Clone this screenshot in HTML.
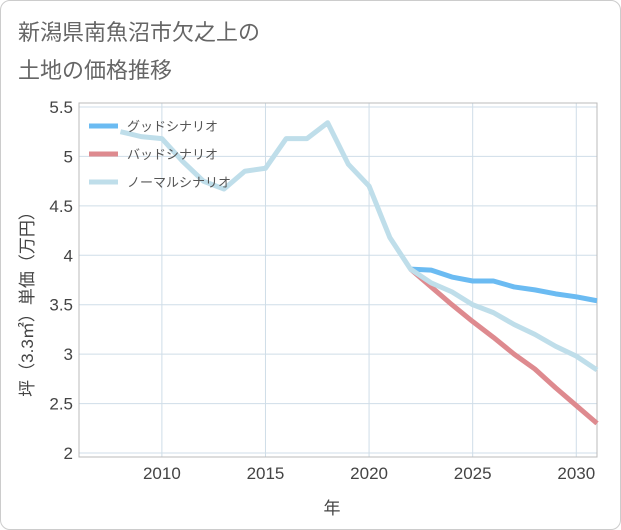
<!DOCTYPE html>
<html><head><meta charset="utf-8"><style>
body{margin:0;background:#fff;font-family:"Liberation Sans","Noto Sans CJK JP",sans-serif}
#card{position:absolute;left:0;top:0;width:619px;height:528px;border:1px solid #ccc;border-radius:10px;background:#fff}
#title{position:absolute;left:18px;top:14px;font-size:22px;line-height:38px;color:#666}
svg{position:absolute;left:0;top:0}
</style></head><body>
<div id="card"></div>
<div id="title">新潟県南魚沼市欠之上の<br>土地の価格推移</div>
<svg id="c" width="621" height="530"></svg>
<script>
const years=[2008,2009,2010,2011,2012,2013,2014,2015,2016,2017,2018,2019,2020,2021,2022,2023,2024,2025,2026,2027,2028,2029,2030,2031];
const normal=[5.25,5.2,5.18,4.95,4.75,4.67,4.85,4.88,5.18,5.18,5.34,4.92,4.7,4.18,3.86,3.72,3.63,3.5,3.42,3.3,3.2,3.08,2.98,2.84];
const goodYears=[2022,2023,2024,2025,2026,2027,2028,2029,2030,2031];
const good=[3.86,3.85,3.78,3.74,3.74,3.68,3.65,3.61,3.58,3.54];
const bad=[3.86,3.68,3.5,3.33,3.17,3.0,2.85,2.66,2.48,2.3];
const xTicks=[2010,2015,2020,2025,2030];
const yTicks=[2,2.5,3,3.5,4,4.5,5,5.5];
const NS="http://www.w3.org/2000/svg",svg=document.getElementById('c');
const L=79,R=597,T=103,B=457,x0=2006,x1=2031,y0=1.96,y1=5.54;
const X=v=>L+(v-x0)/(x1-x0)*(R-L), Y=v=>B-(v-y0)/(y1-y0)*(B-T);
function mk(t,a,txt){const e=document.createElementNS(NS,t);for(const k in a)e.setAttribute(k,a[k]);if(txt!=null)e.textContent=txt;svg.appendChild(e);return e;}
xTicks.forEach(v=>{const g=mk('line',{x1:X(v),x2:X(v),y1:T,y2:B,stroke:'#cfdde8','stroke-width':1});


const t=mk('text',{x:X(v),y:B+22,'text-anchor':'middle','font-size':17,fill:'#444'},v);

});
yTicks.forEach(v=>{const g=mk('line',{x1:L,x2:R,y1:Y(v),y2:Y(v),stroke:'#cfdde8','stroke-width':1});


const t=mk('text',{x:L-6,y:Y(v)+6,'text-anchor':'end','font-size':17,fill:'#444'},v);

});
const fr=mk('rect',{x:L,y:T,width:R-L,height:B-T,fill:'none',stroke:'#bbb'});


function line(xs,vs,c,n){const p=mk('polyline',{points:vs.map((v,i)=>X(xs[i])+','+Y(v)).join(' '),fill:'none',stroke:c,'stroke-width':5,'stroke-linejoin':'round'});

}
line(goodYears,good,'#6bbbf2','good-scenario-line');
line(goodYears,bad,'#de8a8f','bad-scenario-line');
line(years,normal,'#bfdeea','normal-scenario-line');
[['グッドシナリオ','#6bbbf2'],['バッドシナリオ','#de8a8f'],['ノーマルシナリオ','#bfdeea']].forEach((d,i)=>{
const y=126+i*28;
const l=mk('line',{x1:89,x2:118,y1:y,y2:y,stroke:d[1],'stroke-width':5});


const t=mk('text',{x:127,y:y+5,'font-size':13,fill:'#555'},d[0]);

});
const xt=mk('text',{x:332,y:514,'text-anchor':'middle','font-size':17,fill:'#444'},'年');


const yt=mk('text',{x:0,y:0,'text-anchor':'middle','font-size':17,fill:'#444',transform:'translate(33,300) rotate(-90)'},'坪（3.3㎡）単価（万円）');


</script>
</body></html>
